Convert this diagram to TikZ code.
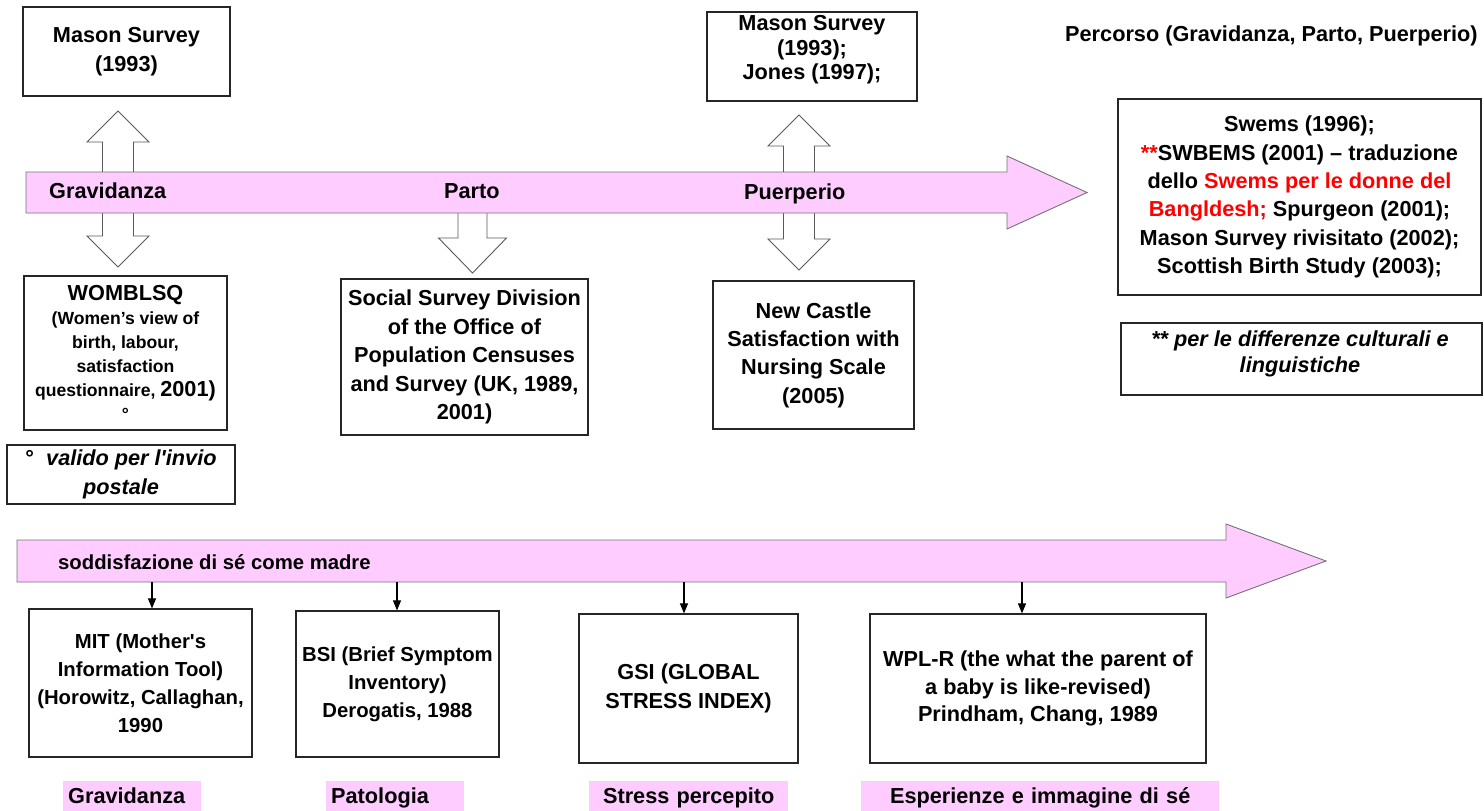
\documentclass[tikz,border=0pt]{standalone}
\usepackage{fontspec}
\setmainfont{Liberation Sans}
\usetikzlibrary{arrows.meta}

\definecolor{lilla}{RGB}{255,204,255}
\definecolor{rosso}{RGB}{255,0,0}

% type sizes used on the chart
\newcommand\fsL{\fontsize{21.7}{28.4}\selectfont\bfseries}
\newcommand\fsM{\fontsize{20.3}{28}\selectfont\bfseries}
\newcommand\fsS{\fontsize{17.6}{24}\selectfont\bfseries}

% hollow double block arrow: axis x, upper tip y, lower tip y
\newcommand\twinarrow[3]{%
  \draw[hollow] (#1,#2) -- ++(31,31) -- ++(-15.5,0) -- (#1+15.5,#3-31)
    -- ++(15.5,0) -- (#1,#3) -- ++(-31,-31) -- ++(15.5,0)
    -- (#1-15.5,#2+31) -- ++(-15.5,0) -- cycle;}

\begin{document}
\begin{tikzpicture}[x=1pt,y=-1pt,
  box/.style={draw=black!85, line width=1.2pt, fill=white, inner sep=0pt, align=center},
  txt/.style={inner sep=0pt, align=center},
  band/.style={fill=lilla, draw=black!55, line width=0.9pt},
  hollow/.style={fill=white, draw=black!65, line width=0.9pt},
  tag/.style={fill=lilla, inner xsep=5pt, inner ysep=0pt, minimum height=30pt,
    text height=15pt, text depth=1pt, font=\fsL},
  link/.style={line width=1.1pt, -{Triangle[width=8pt,length=10pt]}}]

\useasboundingbox (0,0) rectangle (1484,811);

% ---------- block arrows behind the time line ----------
\twinarrow{118}{111}{267}
\twinarrow{799}{115}{270}
\draw[hollow] (458,195) -- (458,238) -- (438.5,238) -- (472.5,273)
  -- (506.5,238) -- (487,238) -- (487,195) -- cycle;

% ---------- time line: pregnancy, birth, puerperium ----------
\draw[band] (26,172) -- (1007,172) -- (1007,156) -- (1087,192.5)
  -- (1007,229) -- (1007,213) -- (26,213) -- cycle;
\node[txt, anchor=base west, font=\fsL] (lgrav) at (49,198) {Gravidanza};
\node[txt, anchor=base west, font=\fsL] (lparto) at (444,198) {Parto};
\node[txt, anchor=base west, font=\fsL] (lpuer) at (744,199) {Puerperio};

\node[txt, anchor=west, font=\fsL] (title) at (1065,36)
  {Percorso (Gravidanza, Parto, Puerperio)};

% ---------- instruments along the time line ----------
\node[box, font=\fsL, minimum width=207pt, minimum height=89pt] (mason1)
  at (126.5,51.5) {Mason Survey\\(1993)};

\node[box, minimum width=210pt, minimum height=89pt] (mason2) at (812,56.5) {};
\node[txt, font=\fontsize{21.7}{24.5}\selectfont\bfseries] (mason2t) at (812,50)
  {Mason Survey\\(1993);\\Jones (1997);};

\node[box, font=\fsS, minimum width=203pt, minimum height=154pt] (womb)
  at (125.5,353)
  {{\fsL WOMBLSQ}\\(Women’s view of\\birth, labour,\\satisfaction\\questionnaire, {\fsL 2001)}\\°};

\node[box, font=\fsL, minimum width=228pt, minimum height=59pt] (note1)
  at (121,474.5) {°\ \ \textit{valido per l\textquotesingle invio}\\\textit{postale}};

\node[box, font=\fsL, minimum width=247pt, minimum height=156pt] (social)
  at (464.5,357)
  {Social Survey Division\\of the Office of\\Population Censuses\\and Survey (UK, 1989,\\2001)};

\node[box, font=\fsL, minimum width=201pt, minimum height=148pt] (castle)
  at (813.5,355)
  {New Castle\\Satisfaction with\\Nursing Scale\\(2005)};

\node[box, font=\fsL, minimum width=363pt, minimum height=196pt] (swems)
  at (1299.5,197)
  {Swems (1996);\\
   \textcolor{rosso}{**}SWBEMS (2001) -- traduzione\\
   dello \textcolor{rosso}{Swems per le donne del}\\
   \textcolor{rosso}{Bangldesh;} Spurgeon (2001);\\
   Mason Survey rivisitato (2002);\\
   Scottish Birth Study (2003);};

\node[box, minimum width=361pt, minimum height=72pt] (note2) at (1301.5,359) {};
\node[txt, font=\fontsize{21.7}{26}\selectfont\bfseries\itshape] (note2t) at (1300,354)
  {** per le differenze culturali e\\linguistiche};

% ---------- second line: satisfaction as a mother ----------
\draw[band] (17,540) -- (1226,540) -- (1226,524) -- (1326,561)
  -- (1226,598) -- (1226,582) -- (17,582) -- cycle;
\node[txt, anchor=base west, font=\fsM] (lsodd) at (58,569)
  {soddisfazione di sé come madre};

\node[box, font=\fsM, minimum width=223pt, minimum height=148pt] (mit)
  at (140.5,683)
  {MIT (Mother\textquotesingle s\\Information Tool)\\(Horowitz, Callaghan,\\1990};

\node[box, font=\fsM, minimum width=203pt, minimum height=146pt] (bsi)
  at (397.5,684)
  {BSI (Brief Symptom\\Inventory)\\Derogatis, 1988};

\node[box, font=\fontsize{21.7}{29}\selectfont\bfseries, minimum width=219pt,
  minimum height=149pt] (gsi) at (688.5,688.5)
  {GSI (GLOBAL\\STRESS INDEX)};

\node[box, font=\fontsize{21.7}{27.5}\selectfont\bfseries, minimum width=336pt,
  minimum height=149pt] (wpl) at (1038,688.5)
  {WPL-R (the what the parent of\\a baby is like-revised)\\Prindham, Chang, 1989};

\coordinate (s1) at (152,582);
\coordinate (s2) at (397,582);
\coordinate (s3) at (684,582);
\coordinate (s4) at (1022,582);
\draw[link] (s1) -- (s1 |- mit.north);
\draw[link] (s2) -- (s2 |- bsi.north);
\draw[link] (s3) -- (s3 |- gsi.north);
\draw[link] (s4) -- (s4 |- wpl.north);

% ---------- area tags ----------
\node[tag, anchor=north west, text width=128pt, align=left] (tg1) at (63,781) {Gravidanza};
\node[tag, anchor=north west, text width=128pt, align=left] (tg2) at (326,781) {Patologia};
\node[tag, anchor=north west, text width=189pt, align=center] (tg3) at (589,781) {Stress percepito};
\node[tag, anchor=north west, text width=348pt, align=center] (tg4) at (861,781) {Esperienze e immagine di sé};

\end{tikzpicture}
\end{document}
